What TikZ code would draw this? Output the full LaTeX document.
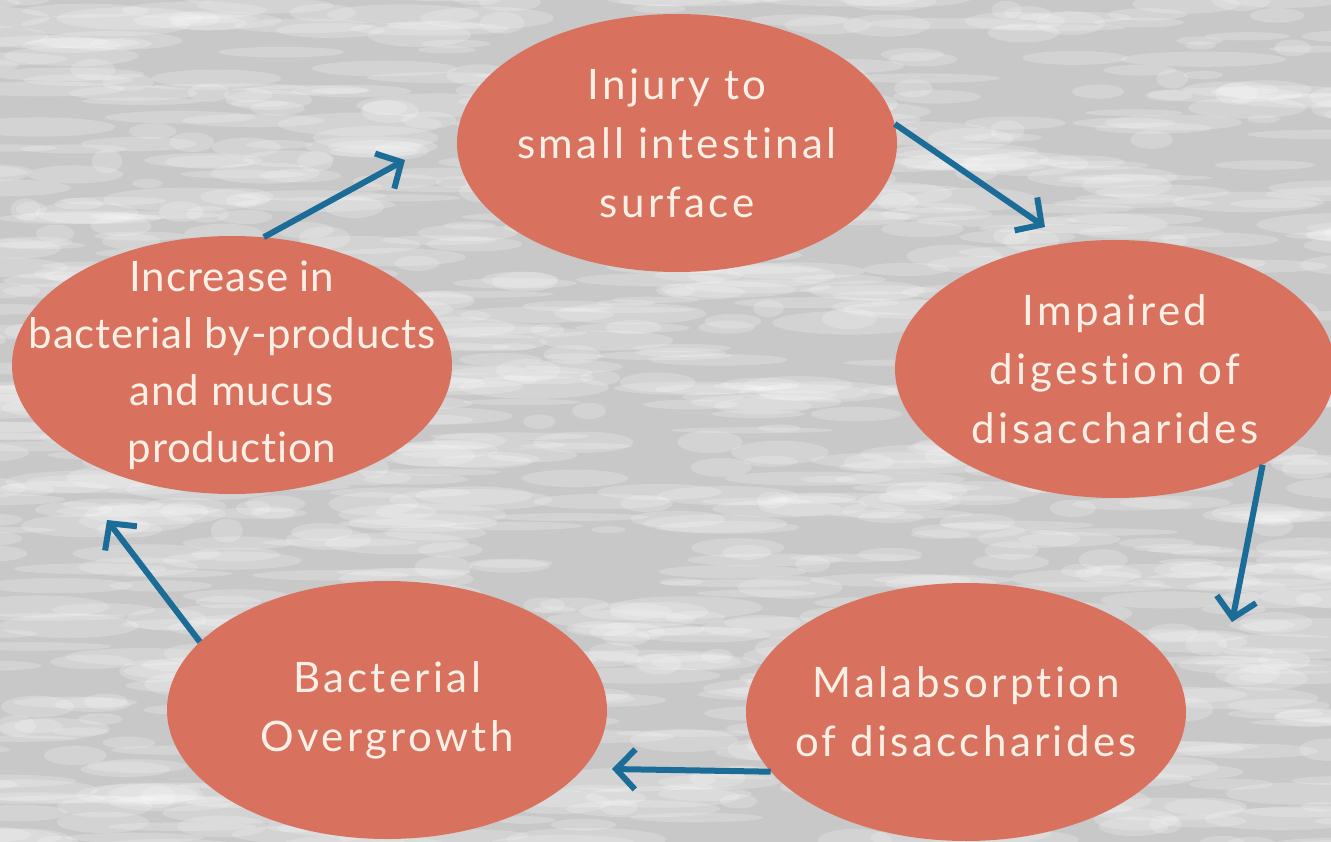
\documentclass[tikz,border=0pt]{standalone}
\usepackage{fontspec}
\setmainfont{Lato}[Ligatures=NoCommon,LetterSpace=8]
\newfontfamily\tightlato{Lato}[Ligatures=NoCommon,LetterSpace=2]
\usetikzlibrary{shapes.geometric,arrows.meta}
\definecolor{bgc}{HTML}{C8C8C8}
\definecolor{blobc}{HTML}{D8725E}
\definecolor{txtc}{HTML}{FCF0E6}
\definecolor{arrc}{HTML}{1B6D98}
\tikzset{
  blob/.style={ellipse,fill=blobc,draw=none,inner sep=0pt,minimum width=440pt,minimum height=258pt},
  blobtext/.style={text=txtc,align=center,font=\fontsize{42}{59}\selectfont,inner sep=0pt},
  cyc/.style={draw=arrc,line width=6pt,-{Straight Barb[length=19pt,width=40pt,line width=6pt]}}
}
\begin{document}
\begin{tikzpicture}[x=1pt,y=-1pt]
\useasboundingbox (0,0) rectangle (1331,842);
\clip (0,0) rectangle (1331,842);
\fill[bgc] (0,0) rectangle (1331,842);
\pgfmathsetseed{11}
\foreach \i in {1,...,1100}{
  \pgfmathsetmacro\xx{rnd*1400-30}
  \pgfmathsetmacro\yy{rnd*880-20}
  \pgfmathsetmacro\aa{rnd*70+15}
  \pgfmathsetmacro\bb{rnd*9+3}
  \fill[white,opacity=0.2] (\xx,\yy) ellipse ({\aa pt} and {\bb pt});
}
\node[blob] (inj) at (677,143) {};
\node[blob] (imp) at (1115,369) {};
\node[blob] (mal) at (966,712) {};
\node[blob] (bac) at (387,710) {};
\node[blob] (inc) at (232,365) {};

\node[blobtext] (injt) at (inj) {Injury to\\small intestinal\\surface};
\node[blobtext] (impt) at (imp) {Impaired\\digestion of\\disaccharides};
\node[blobtext] (malt) at (mal) {Malabsorption\\of disaccharides};
\node[blobtext] (bact) at (bac) {Bacterial\\Overgrowth};
\node[blobtext,font=\fontsize{42}{57}\tightlato] (inct) at (inc) {Increase in\\bacterial by-products\\and mucus\\production};

\coordinate (e1) at (405,160);
\coordinate (e2) at (1045,227);
\coordinate (e3) at (1232,622);
\coordinate (e4) at (612,769);
\coordinate (e5) at (107,520);

\draw[cyc] (inc.76) -- (e1);
\draw[cyc] (inj.5) -- (e2);
\draw[cyc] (imp.-33) -- (e3);
\draw[cyc] (mal.197) -- (e4);
\draw[cyc] (bac.160) -- (e5);
\end{tikzpicture}
\end{document}
